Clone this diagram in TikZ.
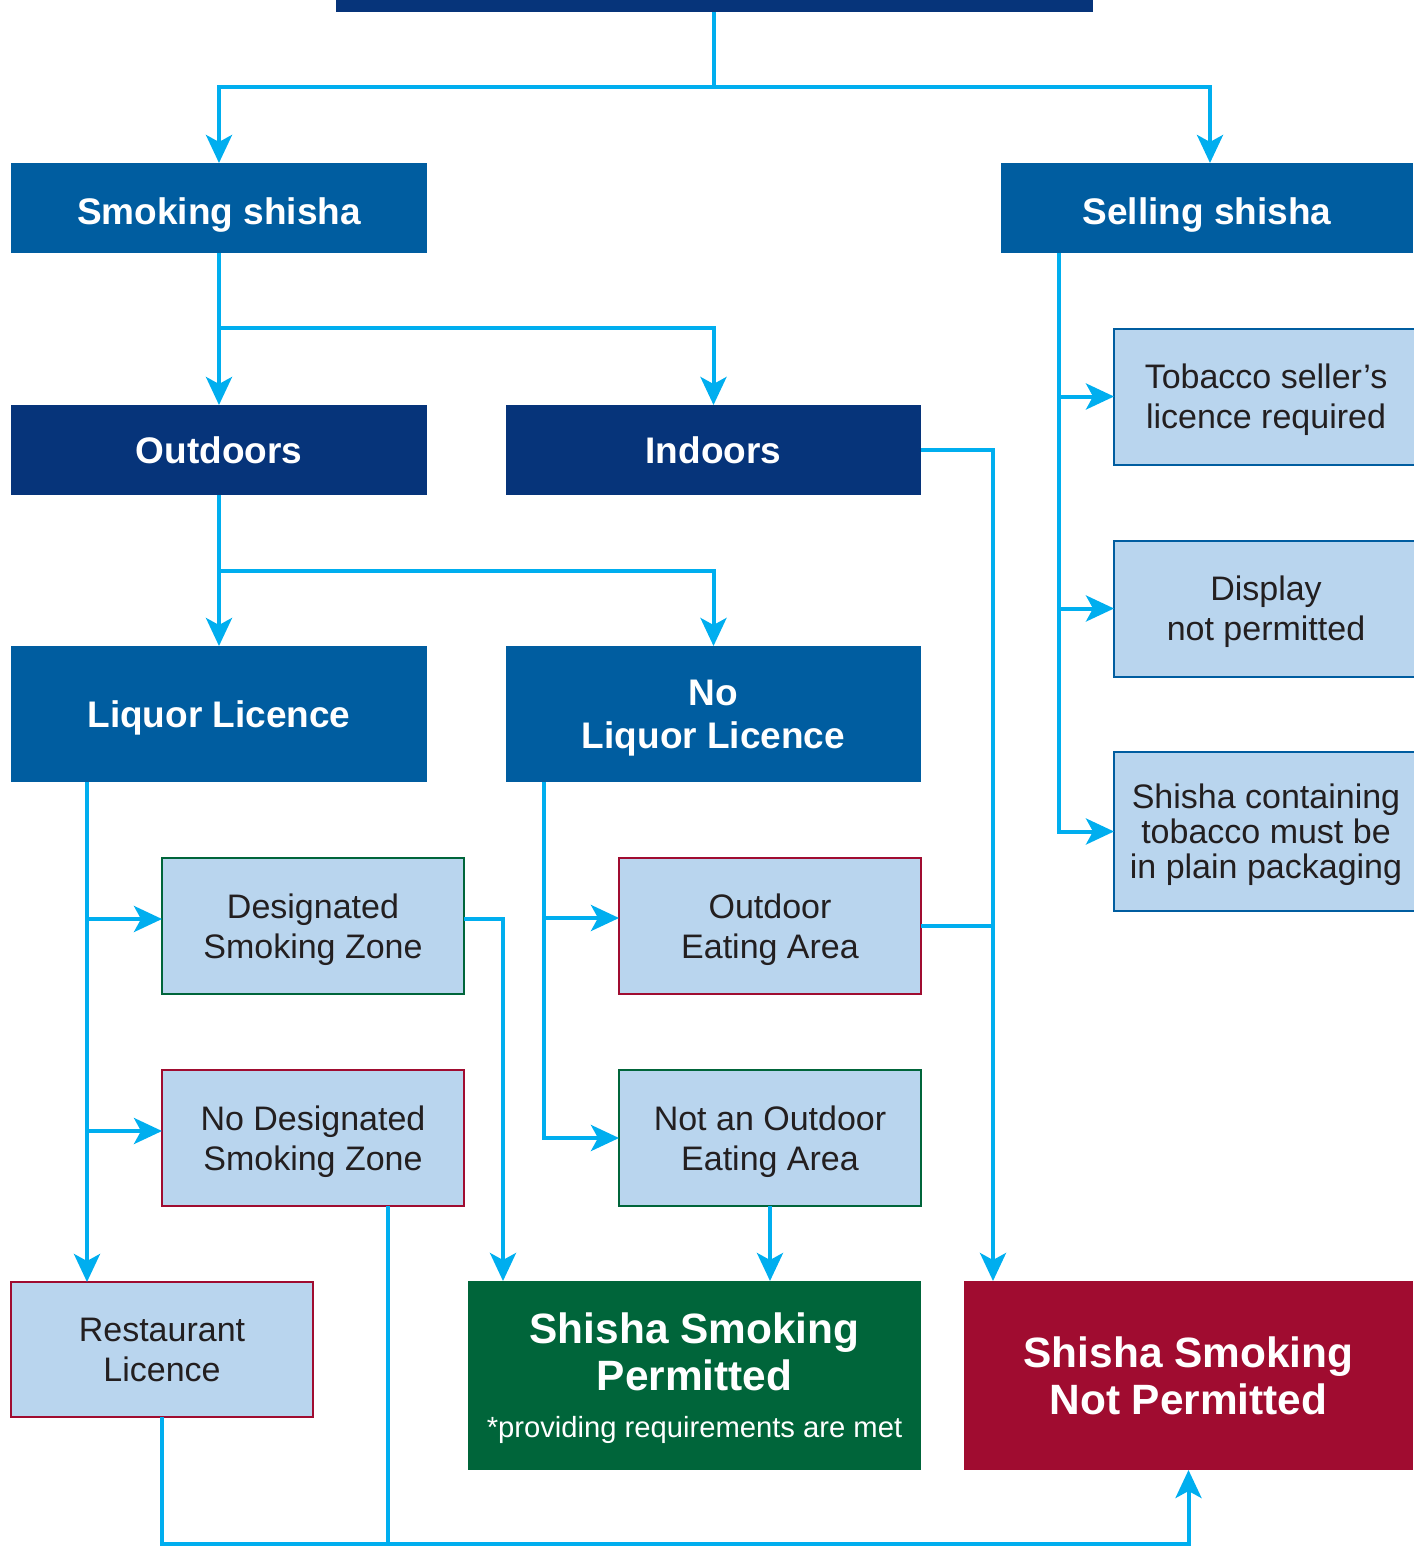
\documentclass[tikz,border=0pt]{standalone}
\usepackage{fontspec}
\setmainfont{Liberation Sans}
\usetikzlibrary{calc}
\usetikzlibrary{arrows.meta}

\definecolor{navy}{HTML}{06347A}
\definecolor{midblue}{HTML}{005DA0}
\definecolor{paleblue}{HTML}{B9D5EE}
\definecolor{flowcyan}{HTML}{00AEEF}
\definecolor{okgreen}{HTML}{00653A}
\definecolor{nored}{HTML}{A00C30}
\definecolor{ink}{HTML}{231F20}

\tikzset{
  box/.style={rectangle, inner sep=0pt, outer sep=0pt, align=center, text depth=0pt},
  head/.style={box, text=white, font=\fontsize{18.5}{21.5}\selectfont\bfseries, minimum width=208pt},
  info/.style={box, fill=paleblue, draw, line width=1pt, text=ink, font=\fontsize{17}{20}\selectfont, minimum width=151pt, minimum height=68pt},
  verdict/.style={box, text=white, font=\fontsize{21.2}{23.5}\selectfont\bfseries, minimum height=94.5pt},
  feed/.style={draw=flowcyan, line width=2pt},
  flow/.style={feed, -{Stealth[length=14pt,width=13pt,inset=3.5pt]}},
}

\begin{document}
\begin{tikzpicture}[x=0.5pt, y=-0.5pt]
  \useasboundingbox (0,0) rectangle (1413,1546);

  \node[box, fill=navy, minimum width=378.5pt, minimum height=26pt] (top) at (714.5,-14) {};

  \node[head, fill=midblue, minimum height=45pt, text height=17pt] (smoking) at (219,208) {Smoking shisha};
  \node[head, fill=midblue, minimum width=206pt, minimum height=45pt, text height=17pt] (selling) at (1207,208) {Selling shisha};

  \node[head, fill=navy, minimum height=45pt] (outdoors) at (219,450) {Outdoors};
  \node[head, fill=navy, minimum width=207.5pt, minimum height=45pt] (indoors) at (713.5,450) {Indoors};

  \node[head, fill=midblue, minimum height=68pt] (liquor) at (219,714) {Liquor Licence};
  \node[head, fill=midblue, minimum width=207.5pt, minimum height=68pt] (noliquor) at (713.5,714) {No\\Liquor Licence};

  \node[info, draw=okgreen] (designated) at (313,926) {Designated\\Smoking Zone};
  \node[info, draw=nored] (nodesignated) at (313,1138) {No Designated\\Smoking Zone};
  \node[info, draw=nored, minimum height=67.5pt] (restaurant) at (162,1349.5) {Restaurant\\Licence};

  \node[info, draw=nored] (eating) at (770,926) {Outdoor\\Eating Area};
  \node[info, draw=okgreen] (noteating) at (770,1138) {Not an Outdoor\\Eating Area};

  \node[info, draw=midblue, minimum width=152pt] (tobacco) at (1266,396.5) {Tobacco seller’s\\licence required};
  \node[info, draw=midblue, minimum width=152pt] (display) at (1266,608.5) {Display\\not permitted};
  \node[info, draw=midblue, minimum width=152pt, minimum height=79.5pt, font=\fontsize{17}{17.5}\selectfont] (packaging) at (1266,831.5) {Shisha containing\\tobacco must be\\in plain packaging};

  \node[verdict, fill=okgreen, minimum width=226.5pt, text depth=-9pt] (permitted) at (694.5,1375.5) {Shisha Smoking\\Permitted\\{\fontsize{14.6}{17}\selectfont\mdseries *providing requirements are met}};
  \node[verdict, fill=nored, minimum width=224.5pt] (notpermitted) at (1188.5,1375.5) {Shisha Smoking\\Not Permitted};

  % top split
  \coordinate (split0) at (714,87);
  \draw[feed] (top.south -| split0) -- (split0);
  \draw[flow] (split0) -| (smoking.north);
  \draw[flow] (split0) -| ($(selling.north)+(3,0)$);

  % smoking shisha
  \coordinate (split1) at (219,328);
  \draw[flow] (smoking) -- (outdoors);
  \draw[flow] (split1) -| (indoors.north);

  % outdoors
  \coordinate (split2) at (219,571);
  \draw[flow] (outdoors) -- (liquor);
  \draw[flow] (split2) -| (noliquor.north);

  % selling shisha
  \coordinate (selltrunk) at (1059,253);
  \draw[flow] (selltrunk) |- (packaging.west);
  \draw[flow] (selltrunk |- tobacco.west) -- (tobacco.west);
  \draw[flow] (selltrunk |- display.west) -- (display.west);

  % liquor licence
  \coordinate (lqtrunk) at (87,782);
  \draw[flow] (lqtrunk) -- (lqtrunk |- restaurant.north);
  \draw[flow] ($(lqtrunk |- designated.west)+(0,-7)$) -- ($(designated.west)+(0,-7)$);
  \draw[flow] ($(lqtrunk |- nodesignated.west)+(0,-7)$) -- ($(nodesignated.west)+(0,-7)$);

  % no liquor licence
  \coordinate (nltrunk) at (544,782);
  \draw[flow] (nltrunk) |- (noteating.west);
  \draw[flow] ($(nltrunk |- eating.west)+(0,-8)$) -- ($(eating.west)+(0,-8)$);

  % into permitted
  \draw[flow] ($(designated.east)+(0,-7)$) -| ($(permitted.north west)+(35,0)$);
  \draw[flow] (noteating) -- (noteating |- permitted.north);

  % into not permitted
  \coordinate (npin) at ($(notpermitted.north west)+(29,0)$);
  \draw[flow] (indoors.east) -| (npin);
  \draw[feed] (eating.east) -- (eating.east -| npin);

  \coordinate (bottomrail) at (388,1544);
  \draw[feed] (bottomrail |- nodesignated.south) -- (bottomrail);
  \draw[flow] (restaurant.south) |- (bottomrail) -| (notpermitted.south);
\end{tikzpicture}
\end{document}
